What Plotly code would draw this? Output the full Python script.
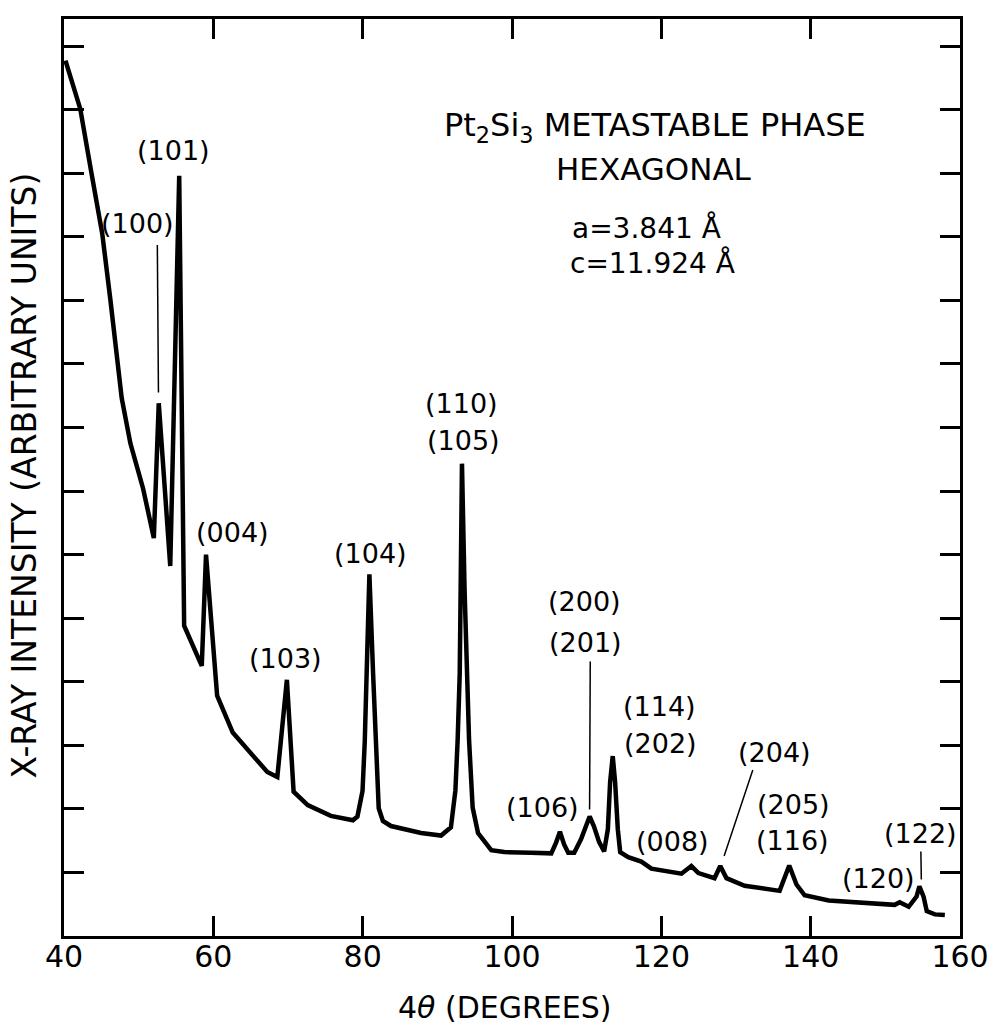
import plotly.graph_objects as go

# Diffraction scan: 4-theta position (degrees) and intensity (arbitrary units)
four_theta = [
    40.2, 41.2, 42.18, 43.65, 45.12, 46.19, 46.96, 47.73, 48.89, 50.59,
    52.03, 52.69, 54.23, 55.43, 56.09, 58.45, 59.02, 60.51, 62.60, 65.32,
    67.23, 68.57, 69.85, 70.75, 72.64, 75.74, 78.70, 79.3, 79.98, 80.28,
    80.54, 80.9, 81.4, 81.8, 82.15, 82.71, 83.79, 87.82, 90.50, 91.82,
    92.42, 92.72, 93.0, 93.12, 93.3, 93.65, 93.95, 94.25, 94.73, 95.45,
    97.22, 98.97, 102.58, 105.26, 105.90, 106.42, 106.98, 107.53, 108.33, 109.24,
    110.40, 110.96, 111.66, 112.34, 112.84, 113.14, 113.49, 113.81, 114.17, 114.49,
    115.57, 117.32, 118.67, 120.01, 122.69, 124.02, 124.97, 127.12, 127.89, 128.72,
    131.15, 135.84, 137.13, 138.10, 139.19, 142.42, 146.83, 151.25, 151.92, 153.13,
    154.18, 154.56, 155.12, 155.55, 156.63, 157.97,
]
intensity = [
    13.77, 13.41, 13.01, 12.02, 11.05, 10.03, 9.24, 8.46, 7.75, 7.04,
    6.26, 8.38, 5.82, 11.96, 4.88, 4.25, 6.00, 3.78, 3.20, 2.84,
    2.58, 2.50, 4.03, 2.27, 2.06, 1.89, 1.82, 1.88, 2.28, 3.06,
    4.12, 5.69, 4.12, 3.06, 2.01, 1.81, 1.73, 1.62, 1.58, 1.71,
    2.29, 3.08, 4.13, 5.44, 7.43, 5.44, 4.13, 3.08, 2.02, 1.62,
    1.35, 1.32, 1.31, 1.30, 1.47, 1.64, 1.44, 1.31, 1.31, 1.52,
    1.88, 1.73, 1.48, 1.33, 1.68, 2.42, 2.83, 2.42, 1.68, 1.32,
    1.24, 1.17, 1.06, 1.03, 0.98, 1.10, 0.99, 0.91, 1.10, 0.91,
    0.79, 0.71, 1.11, 0.81, 0.64, 0.56, 0.52, 0.49, 0.53, 0.46,
    0.62, 0.78, 0.62, 0.39, 0.34, 0.33,
]

# Miller-index labels of the reflections
reflection_labels = [
    "(100)", "(101)", "(004)", "(103)", "(104)", "(110)", "(105)",
    "(200)", "(201)", "(106)", "(114)", "(202)", "(008)", "(204)",
    "(205)", "(116)", "(120)", "(122)",
]

x_ticks = [40, 60, 80, 100, 120, 140, 160]

FONT = "DejaVu Sans"

# label anchor points (data coordinates), same order as reflection_labels
label_pos = [
    (49.78, 11.21), (54.71, 12.35), (62.59, 6.35), (69.67, 4.36),
    (81.09, 6.02), (93.23, 8.38), (93.44, 7.80), (109.69, 5.26),
    (109.78, 4.62), (104.09, 2.02), (119.81, 3.61), (119.88, 3.03),
    (121.56, 1.49), (135.16, 2.88), (137.67, 2.07), (137.61, 1.50),
    (149.06, 0.90), (154.72, 1.61),
]

# thin leader lines from a label to its peak: (x0, y0, x1, y1)
leaders = [
    (52.50, 10.87, 52.65, 8.55),
    (110.48, 4.32, 110.39, 1.99),
    (132.25, 2.61, 128.41, 1.26),
    (154.76, 1.33, 154.82, 0.89),
]

fig = go.Figure()
fig.add_trace(go.Scatter(
    x=four_theta, y=intensity, mode="lines",
    line=dict(color="black", width=4.5),
    hoverinfo="skip", showlegend=False,
))

annotations = []
for txt, (lx, ly) in zip(reflection_labels, label_pos):
    annotations.append(dict(
        x=lx, y=ly, xref="x", yref="y", text=txt, showarrow=False,
        xanchor="center", yanchor="middle",
        font=dict(family=FONT, size=27, color="black"),
    ))

# phase description block
info = [
    ("Pt<sub>2</sub>Si<sub>3</sub> METASTABLE PHASE", 119.15, 12.73, 32),
    ("HEXAGONAL", 118.97, 12.07, 31),
    ("a=3.841 Å", 118.02, 11.14, 28),
    ("c=11.924 Å", 118.77, 10.59, 28),
]
for txt, ix, iy, sz in info:
    annotations.append(dict(
        x=ix, y=iy, xref="x", yref="y", text=txt, showarrow=False,
        xanchor="center", yanchor="middle",
        font=dict(family=FONT, size=sz, color="black"),
    ))

# axis titles
annotations.append(dict(
    x=0.492, y=-0.0785, xref="paper", yref="paper",
    text="4<i>θ</i> (DEGREES)", showarrow=False,
    xanchor="center", yanchor="middle",
    font=dict(family=FONT, size=30, color="black"),
))
annotations.append(dict(
    x=-0.0441, y=0.5027, xref="paper", yref="paper",
    text="X-RAY INTENSITY (ARBITRARY UNITS)", showarrow=False,
    textangle=-90, xanchor="center", yanchor="middle",
    font=dict(family=FONT, size=33, color="black"),
))

shapes = [
    dict(type="line", xref="x", yref="y", x0=a, y0=b, x1=c, y1=d,
         line=dict(color="black", width=1.5))
    for a, b, c, d in leaders
]

fig.update_layout(
    width=991, height=1025,
    margin=dict(l=64, r=31, t=19, b=89, autoexpand=False),
    paper_bgcolor="white", plot_bgcolor="white",
    annotations=annotations, shapes=shapes,
    showlegend=False,
)
fig.update_xaxes(
    range=[40, 160], tickmode="array", tickvals=x_ticks,
    ticktext=[str(v) for v in x_ticks],
    ticks="inside", ticklen=20, tickwidth=3, tickcolor="black",
    showline=True, linecolor="black", linewidth=3, mirror="ticks",
    showgrid=False, zeroline=False, automargin=False,
    ticklabeloverflow="allow", ticklabelstandoff=-8,
    tickfont=dict(family=FONT, size=30, color="black"),
)
fig.update_yaxes(
    range=[0, 14.425], tick0=0, dtick=1,
    ticks="inside", ticklen=20, tickwidth=3, tickcolor="black",
    showline=True, linecolor="black", linewidth=3, mirror="ticks",
    showgrid=False, zeroline=False, showticklabels=False,
    automargin=False,
)

fig.write_html("out.html")
